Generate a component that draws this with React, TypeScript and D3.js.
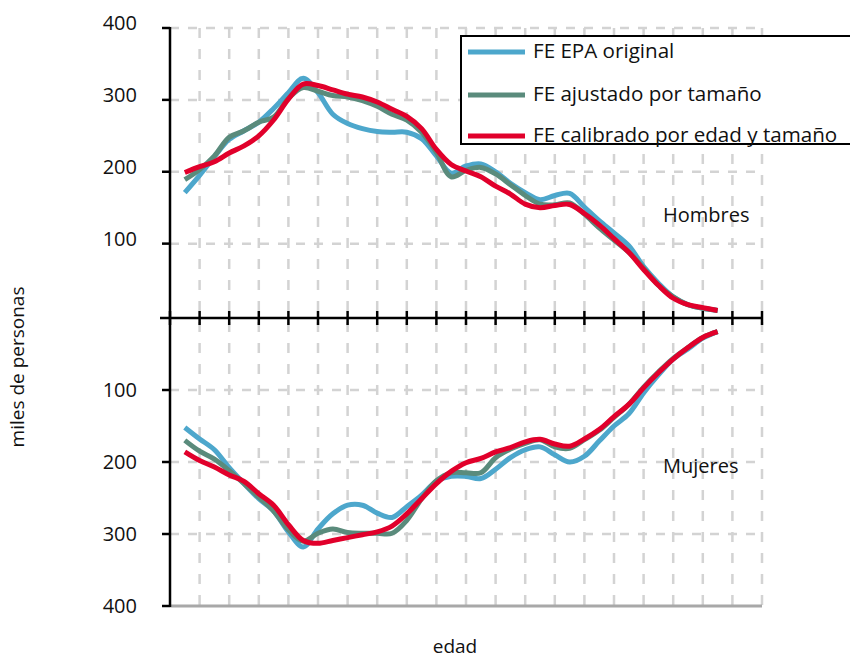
import React from "react";
import * as d3 from "d3";

// Ages (x categories)
const ages = [16, 18, 20, 22, 24, 26, 28, 30, 32, 34, 36, 38, 40, 42, 44, 46, 48, 50, 52, 54, 56, 58, 60, 62, 64, 66, 68, 70, 72, 74, 76, 78, 80, 82, 84, 86, 88];

// Hombres (miles de personas)
const menOriginal = [171, 195, 221, 245, 257, 269, 288, 310, 330, 310, 280, 267, 260, 256, 255, 255, 246, 222, 198, 208, 211, 200, 184, 171, 161, 167, 170, 151, 132, 115, 97, 68, 45, 26, 15, 10, 7];
const menAjustado = [189, 203, 222, 248, 257, 269, 276, 302, 317, 312, 306, 304, 299, 291, 280, 272, 255, 227, 193, 202, 206, 197, 182, 167, 155, 154, 156.5, 141, 122, 105, 88, 66, 42, 26, 15, 10, 7];
const menCalibrado = [199, 207, 214, 226, 236, 250, 272, 301, 322, 320, 314, 308, 304, 297, 287, 277, 260, 231, 210, 201, 193, 180, 169, 155, 150, 153, 154.5, 142, 126, 107, 88, 64, 42, 24, 15, 11, 7];

// Mujeres (miles de personas)
const womenOriginal = [152, 168, 183, 208, 230, 251, 268, 297, 318, 293, 272, 260, 260, 271, 277, 262, 246, 227, 220, 220, 223, 210, 194, 183, 179, 190, 200, 192, 171, 150, 133, 104, 79, 57, 43, 28, 19];
const womenAjustado = [170, 185, 196, 212, 230, 249, 268, 294, 310, 299, 293, 298, 299, 299, 299, 281, 251, 226, 215, 215, 215, 194, 182, 174, 169, 179, 181, 169, 156, 138, 120, 96, 75, 56, 41, 27, 19];
const womenCalibrado = [186, 198, 207, 218, 227, 244, 260, 287, 309, 313, 309, 305, 301, 297, 289, 272, 251, 230, 213, 201, 195, 186, 180, 172, 168.5, 175, 178, 168, 155, 137, 120, 97, 76, 57, 41, 27, 19];

const yTicks = [100, 200, 300, 400];
const xTicks = [14, 18, 22, 26, 30, 34, 38, 42, 46, 50, 54, 58, 62, 66, 70, 74, 78, 82, 86, 90, 94];

const seriesNames = ["FE EPA original", "FE ajustado por tamaño", "FE calibrado por edad y tamaño"];
const seriesColors = ["#4da7cc", "#5a8b7c", "#e1002b"];

const FONT = "'Open Sans', 'Liberation Sans', sans-serif";

export default function App() {
  const x = d3.scaleLinear().domain([14, 94]).range([170, 762]);
  const yTop = d3.scaleLinear().domain([0, 400]).range([315.5, 28]);
  const yBot = d3.scaleLinear().domain([0, 400]).range([318, 606]);
  const zeroY = 318;

  const lineTop = d3
    .line<number>()
    .x((_, i) => x(ages[i]))
    .y((d) => yTop(d))
    .curve(d3.curveCatmullRom.alpha(0.5));
  const lineBot = d3
    .line<number>()
    .x((_, i) => x(ages[i]))
    .y((d) => yBot(d))
    .curve(d3.curveCatmullRom.alpha(0.5));

  const top = [menOriginal, menAjustado, menCalibrado];
  const bot = [womenOriginal, womenAjustado, womenCalibrado];

  const gridColor = "#d3d3d3";

  return (
    <svg width={850} height={659} style={{ position: "absolute", left: 0, top: 0, background: "#fff" }}>
      {/* vertical dashed grid */}
      {xTicks.slice(1).map((t) => (
        <line key={"vg" + t} x1={x(t)} x2={x(t)} y1={yTop(400)} y2={yBot(400)} stroke={gridColor} strokeWidth={2.5} strokeDasharray="10,11" />
      ))}
      {/* horizontal dashed grid */}
      {yTicks.map((t) => (
        <line key={"hgt" + t} x1={170} x2={762} y1={yTop(t)} y2={yTop(t)} stroke={gridColor} strokeWidth={2.5} strokeDasharray="9,9" />
      ))}
      {yTicks.slice(0, 3).map((t) => (
        <line key={"hgb" + t} x1={170} x2={762} y1={yBot(t)} y2={yBot(t)} stroke={gridColor} strokeWidth={2.5} strokeDasharray="9,9" />
      ))}
      {/* bottom gray line */}
      <line x1={170} x2={762} y1={yBot(400)} y2={yBot(400)} stroke="#a8a8a8" strokeWidth={3} />

      {/* series */}
      {top.map((s, i) => (
        <path key={"t" + i} d={lineTop(s) || ""} fill="none" stroke={seriesColors[i]} strokeWidth={5} strokeLinejoin="round" />
      ))}
      {bot.map((s, i) => (
        <path key={"b" + i} d={lineBot(s) || ""} fill="none" stroke={seriesColors[i]} strokeWidth={5} strokeLinejoin="round" />
      ))}

      {/* y axis */}
      <line x1={170} x2={170} y1={yTop(400) - 1} y2={yBot(400) + 1} stroke="#000" strokeWidth={2.5} />
      {yTicks.map((t) => (
        <line key={"ytt" + t} x1={162} x2={170} y1={yTop(t)} y2={yTop(t)} stroke="#000" strokeWidth={2.5} />
      ))}
      {yTicks.map((t) => (
        <line key={"ytb" + t} x1={162} x2={170} y1={yBot(t)} y2={yBot(t)} stroke="#000" strokeWidth={2.5} />
      ))}
      {/* zero axis */}
      <line x1={160} x2={763} y1={zeroY} y2={zeroY} stroke="#000" strokeWidth={2.5} />
      {xTicks.map((t) => (
        <line key={"xt" + t} x1={x(t)} x2={x(t)} y1={zeroY - 7} y2={zeroY + 7} stroke="#000" strokeWidth={2.5} />
      ))}

      {/* y tick labels */}
      {yTicks.map((t) => (
        <text key={"ylt" + t} x={137} y={yTop(t)} dy="0.1em" textAnchor="end" fontFamily={FONT} fontSize={20} fill="#111">
          {t}
        </text>
      ))}
      {yTicks.map((t) => (
        <text key={"ylb" + t} x={137} y={yBot(t)} dy="0.35em" textAnchor="end" fontFamily={FONT} fontSize={20} fill="#111">
          {t}
        </text>
      ))}

      {/* panel labels */}
      <text x={663} y={222} fontFamily={FONT} fontSize={20} fill="#111">Hombres</text>
      <text x={663} y={473} fontFamily={FONT} fontSize={20} fill="#111">Mujeres</text>

      {/* axis titles */}
      <text transform="translate(24,367) rotate(-90)" textAnchor="middle" fontFamily={FONT} fontSize={19} fill="#111">
        miles de personas
      </text>
      <text x={455} y={653} textAnchor="middle" fontFamily={FONT} fontSize={19} fill="#111">
        edad
      </text>

      {/* legend */}
      <rect x={461} y={36} width={392} height={108} fill="#fff" stroke="#000" strokeWidth={2} />
      {seriesNames.map((n, i) => {
        const ly = [52, 95, 136][i];
        return (
          <g key={"lg" + i}>
            <line x1={468} x2={525} y1={ly} y2={ly} stroke={seriesColors[i]} strokeWidth={5} />
            <text x={533} y={ly} dy="0.3em" fontFamily={FONT} fontSize={20.6} fill="#111">
              {n}
            </text>
          </g>
        );
      })}
    </svg>
  );
}
